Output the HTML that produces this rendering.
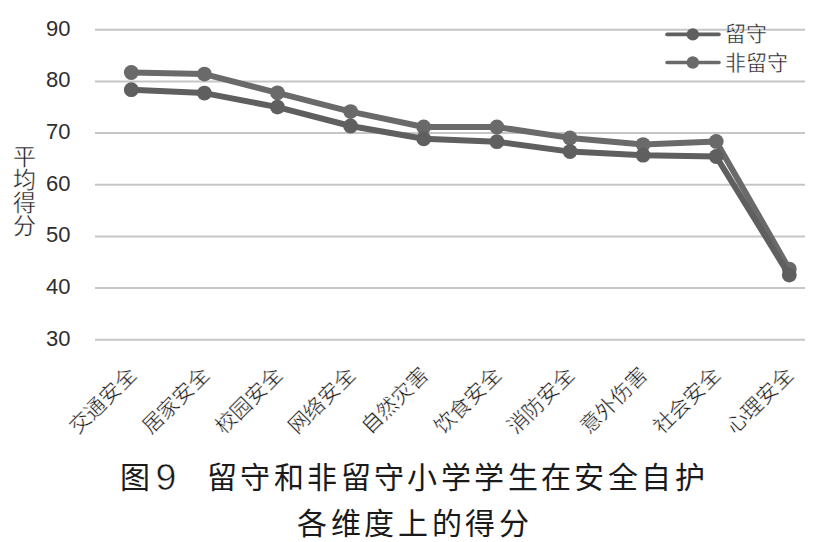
<!DOCTYPE html>
<html lang="zh-CN"><head><meta charset="utf-8"><title>图9 留守和非留守小学学生在安全自护各维度上的得分</title>
<style>
html,body{margin:0;padding:0;background:#fff;}
body{width:820px;height:542px;overflow:hidden;position:relative;}
svg{position:absolute;left:0;top:0;}
.num{font-family:"Liberation Sans",sans-serif;font-size:22px;fill:#2e2e2e;}
.yt{font-family:"Liberation Serif",serif;font-size:23px;fill:#1a1a1a;stroke:#fff;stroke-width:0.4px;}
.xl{font-family:"Liberation Serif",serif;font-size:21px;fill:#1a1a1a;stroke:#fff;stroke-width:0.4px;}
.lg{font-family:"Liberation Serif",serif;font-size:21px;fill:#1a1a1a;stroke:#fff;stroke-width:0.4px;}
.cap{position:absolute;font-family:"Liberation Sans",sans-serif;font-size:30px;color:#1a1a1a;letter-spacing:3.4px;white-space:nowrap;line-height:1;}
.nine{font-size:37.5px;letter-spacing:0;-webkit-text-stroke:0.6px #fff;}
</style></head><body>
<svg width="820" height="542" viewBox="0 0 820 542">
<line x1="95" y1="29.80" x2="805" y2="29.80" stroke="#c6c6c6" stroke-width="2"/>
<line x1="95" y1="81.45" x2="805" y2="81.45" stroke="#c6c6c6" stroke-width="2"/>
<line x1="95" y1="133.10" x2="805" y2="133.10" stroke="#c6c6c6" stroke-width="2"/>
<line x1="95" y1="184.75" x2="805" y2="184.75" stroke="#c6c6c6" stroke-width="2"/>
<line x1="95" y1="236.40" x2="805" y2="236.40" stroke="#c6c6c6" stroke-width="2"/>
<line x1="95" y1="288.05" x2="805" y2="288.05" stroke="#c6c6c6" stroke-width="2"/>
<line x1="95" y1="339.70" x2="805" y2="339.70" stroke="#c6c6c6" stroke-width="2"/>
<text x="70.5" y="35.60" text-anchor="end" class="num">90</text>
<text x="70.5" y="87.25" text-anchor="end" class="num">80</text>
<text x="70.5" y="138.90" text-anchor="end" class="num">70</text>
<text x="70.5" y="190.55" text-anchor="end" class="num">60</text>
<text x="70.5" y="242.20" text-anchor="end" class="num">50</text>
<text x="70.5" y="293.85" text-anchor="end" class="num">40</text>
<text x="70.5" y="345.50" text-anchor="end" class="num">30</text>
<polyline points="131.3,72.5 204.4,74.1 277.5,92.8 350.6,111.6 423.7,127.0 496.9,127.0 570.0,137.9 643.1,144.6 716.2,141.4 789.3,269.1" fill="none" stroke="#6a6a6a" stroke-width="6" stroke-linejoin="round"/>
<circle cx="131.3" cy="72.5" r="7.4" fill="#6a6a6a"/>
<circle cx="204.4" cy="74.1" r="7.4" fill="#6a6a6a"/>
<circle cx="277.5" cy="92.8" r="7.4" fill="#6a6a6a"/>
<circle cx="350.6" cy="111.6" r="7.4" fill="#6a6a6a"/>
<circle cx="423.7" cy="127.0" r="7.4" fill="#6a6a6a"/>
<circle cx="496.9" cy="127" r="7.4" fill="#6a6a6a"/>
<circle cx="570.0" cy="137.9" r="7.4" fill="#6a6a6a"/>
<circle cx="643.1" cy="144.6" r="7.4" fill="#6a6a6a"/>
<circle cx="716.2" cy="141.4" r="7.4" fill="#6a6a6a"/>
<circle cx="789.3" cy="269.1" r="7.4" fill="#6a6a6a"/>
<polyline points="131.3,89.7 204.4,93.1 277.5,107.1 350.6,126.0 423.7,138.8 496.9,141.7 570.0,151.6 643.1,155.2 716.2,156.5 789.3,275.1" fill="none" stroke="#5f5f5f" stroke-width="6" stroke-linejoin="round"/>
<circle cx="131.3" cy="89.7" r="7.4" fill="#5f5f5f"/>
<circle cx="204.4" cy="93.1" r="7.4" fill="#5f5f5f"/>
<circle cx="277.5" cy="107.1" r="7.4" fill="#5f5f5f"/>
<circle cx="350.6" cy="126" r="7.4" fill="#5f5f5f"/>
<circle cx="423.7" cy="138.8" r="7.4" fill="#5f5f5f"/>
<circle cx="496.9" cy="141.7" r="7.4" fill="#5f5f5f"/>
<circle cx="570.0" cy="151.6" r="7.4" fill="#5f5f5f"/>
<circle cx="643.1" cy="155.2" r="7.4" fill="#5f5f5f"/>
<circle cx="716.2" cy="156.5" r="7.4" fill="#5f5f5f"/>
<circle cx="789.3" cy="275.1" r="7.4" fill="#5f5f5f"/>
<line x1="667" y1="34.4" x2="719" y2="34.4" stroke="#5f5f5f" stroke-width="3.6" stroke-linecap="round"/>
<circle cx="692.8" cy="34.4" r="6.2" fill="#5f5f5f"/>
<line x1="667" y1="62.5" x2="719" y2="62.5" stroke="#6a6a6a" stroke-width="3.6" stroke-linecap="round"/>
<circle cx="692.8" cy="62.5" r="6.2" fill="#6a6a6a"/>
<text x="724.7" y="41.3" class="lg">留守</text>
<text x="724.7" y="69.8" class="lg">非留守</text>
<text x="24" y="165.00" text-anchor="middle" class="yt">平</text>
<text x="24" y="188.00" text-anchor="middle" class="yt">均</text>
<text x="24" y="211.00" text-anchor="middle" class="yt">得</text>
<text x="24" y="234.00" text-anchor="middle" class="yt">分</text>
<text transform="translate(137.50,376.00) rotate(-45)" text-anchor="end" class="xl">交通安全</text>
<text transform="translate(210.50,376.00) rotate(-45)" text-anchor="end" class="xl">居家安全</text>
<text transform="translate(283.50,376.00) rotate(-45)" text-anchor="end" class="xl">校园安全</text>
<text transform="translate(356.50,376.00) rotate(-45)" text-anchor="end" class="xl">网络安全</text>
<text transform="translate(429.50,376.00) rotate(-45)" text-anchor="end" class="xl">自然灾害</text>
<text transform="translate(502.50,376.00) rotate(-45)" text-anchor="end" class="xl">饮食安全</text>
<text transform="translate(575.50,376.00) rotate(-45)" text-anchor="end" class="xl">消防安全</text>
<text transform="translate(648.50,376.00) rotate(-45)" text-anchor="end" class="xl">意外伤害</text>
<text transform="translate(721.50,376.00) rotate(-45)" text-anchor="end" class="xl">社会安全</text>
<text transform="translate(794.50,376.00) rotate(-45)" text-anchor="end" class="xl">心理安全</text>
</svg>
<div class="cap" style="top:462.5px;left:119.5px">图</div>
<div class="cap nine" style="top:459px;left:155.6px">9</div>
<div class="cap" style="top:462.5px;left:207px">留守和非留守小学学生在安全自护</div>
<div class="cap" style="top:508.5px;left:297px;letter-spacing:3.7px">各维度上的得分</div>
</body></html>
